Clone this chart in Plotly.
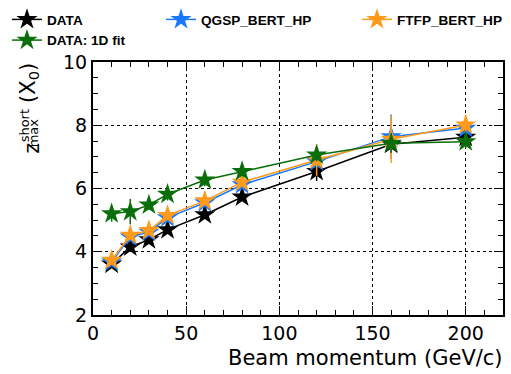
import plotly.graph_objects as go

# ---- data ----
momentum = [10, 20, 30, 40, 60, 80, 120, 160, 200]
data_vals = [3.61, 4.15, 4.38, 4.70, 5.17, 5.73, 6.54, 7.40, 7.62]
data_err = [0.12, 0.10, 0.10, 0.10, 0.10, 0.12, 0.30, 0.30, 0.15]
qgsp_vals = [3.68, 4.47, 4.62, 5.08, 5.55, 6.12, 6.85, 7.64, 7.91]
qgsp_err = [0.12, 0.10, 0.10, 0.12, 0.12, 0.12, 0.20, 0.70, 0.20]
ftfp_vals = [3.73, 4.52, 4.67, 5.15, 5.61, 6.20, 6.90, 7.56, 8.01]
ftfp_err = [0.12, 0.10, 0.10, 0.12, 0.12, 0.12, 0.50, 0.75, 0.30]
fit_vals = [5.20, 5.27, 5.48, 5.82, 6.27, 6.54, 7.06, 7.43, 7.48]
fit_err = [0.25, 0.40, 0.15, 0.20, 0.20, 0.15, 0.20, 0.30, 0.20]

series_names = ["DATA", "QGSP_BERT_HP", "FTFP_BERT_HP", "DATA: 1D fit"]
x_ticks = [0, 50, 100, 150, 200]
y_ticks = [2, 4, 6, 8, 10]

W, H = 511, 374
L, R, T, B = 93, 8.3, 62, 58.7
PW, PH = W - L - R, H - T - B

colors = ["#000000", "#1a78ff", "#ff9a1a", "#0a6e0a"]
legends = ["legend", "legend2", "legend3", "legend"]
series = [(data_vals, data_err), (qgsp_vals, qgsp_err), (ftfp_vals, ftfp_err), (fit_vals, fit_err)]

fig = go.Figure()
for name, (vals, err), col, lg in zip(series_names, series, colors, legends):
    fig.add_trace(go.Scatter(
        x=momentum, y=vals, name=name, mode="lines+markers",
        line=dict(color=col, width=1.5),
        marker=dict(symbol="star", size=16, color=col, line=dict(width=0)),
        error_y=dict(type="data", array=err, color=col, thickness=1.5, width=0),
        legend=lg,
    ))


def px(xp):
    return (xp - L) / PW


def py(yp):
    return (H - B - yp) / PH


leg_common = dict(orientation="v", xref="container", yref="paper", y=py(4),
                  xanchor="left", yanchor="top", bgcolor="rgba(0,0,0,0)",
                  font=dict(family="Liberation Sans", size=13.6, color="black", weight="bold"),
                  tracegroupgap=0, itemwidth=30)

axis_font = dict(family="DejaVu Sans", size=19, color="black")

fig.update_layout(
    width=W, height=H,
    margin=dict(l=L, r=R, t=T, b=B, autoexpand=False),
    paper_bgcolor="white", plot_bgcolor="white",
    showlegend=True,
    legend=dict(x=7 / W, **leg_common),
    legend2=dict(x=161 / W, **leg_common),
    legend3=dict(x=357 / W, **leg_common),
    xaxis=dict(range=[0, 220], tickvals=x_ticks, ticks="inside", ticklen=9, tickwidth=1.2,
               tickcolor="black", showline=True, linewidth=2, linecolor="black", mirror="allticks",
               showgrid=True, gridcolor="black", griddash="dot", gridwidth=1, zeroline=False,
               tickfont=axis_font, automargin=False,
               minor=dict(dtick=10, ticks="inside", ticklen=5, tickcolor="black", tickwidth=1.2,
                          showgrid=False)),
    yaxis=dict(range=[2, 10], tickvals=y_ticks, ticks="inside", ticklen=9, tickwidth=1.2,
               tickcolor="black", showline=True, linewidth=2, linecolor="black", mirror="allticks",
               showgrid=True, gridcolor="black", griddash="dot", gridwidth=1, zeroline=False,
               tickfont=axis_font, automargin=False,
               minor=dict(dtick=0.5, ticks="inside", ticklen=5, tickcolor="black", tickwidth=1.2,
                          showgrid=False)),
)

ann = [
    dict(text="Beam momentum (GeV/c)", x=px(505), y=py(358), xanchor="right",
         font=dict(family="DejaVu Sans", size=21, color="black")),
    dict(text="z", x=px(32), y=py(148), textangle=-90,
         font=dict(family="DejaVu Sans", size=21, color="black")),
    dict(text="short", x=px(24), y=py(125.5), textangle=-90,
         font=dict(family="DejaVu Sans", size=13, color="black")),
    dict(text="max", x=px(33), y=py(132.5), textangle=-90,
         font=dict(family="DejaVu Sans", size=13, color="black")),
    dict(text="(X<sub>0</sub>)", x=px(29), y=py(83), textangle=-90,
         font=dict(family="DejaVu Sans", size=21, color="black")),
]
for a in ann:
    base = dict(xref="paper", yref="paper", showarrow=False, xanchor="center", yanchor="middle")
    base.update(a)
    fig.add_annotation(**base)

fig.write_html("out.html", config={"displayModeBar": False},
               post_script="document.body.style.margin='0';document.body.style.padding='0';")
